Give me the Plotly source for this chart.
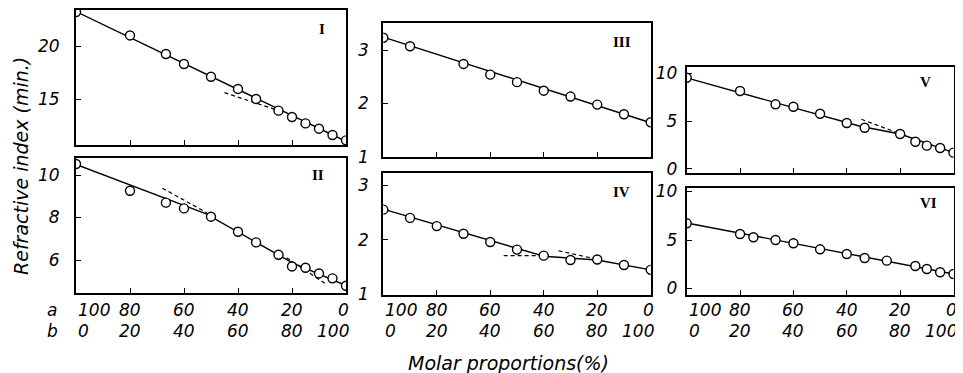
import plotly.graph_objects as go

# ---------------- data ----------------
# Panel I
p1_x = [100, 80, 66.7, 60, 50, 40, 33.3, 25, 20, 15, 10, 5, 0]
p1_y = [23.2, 21.0, 19.25, 18.3, 17.1, 15.95, 15.0, 13.9, 13.3, 12.7, 12.2, 11.6, 11.1]
p1_fit_x = [100, 33.3, 0]
p1_fit_y = [23.25, 15.05, 11.0]
p1_dash_x = [45, 25.5]
p1_dash_y = [15.6, 13.95]

# Panel II
p2_x = [100, 80, 66.7, 60, 50, 40, 33.3, 25, 20, 15, 10, 5, 0]
p2_y = [10.52, 9.26, 8.70, 8.43, 8.04, 7.33, 6.83, 6.25, 5.70, 5.64, 5.37, 5.14, 4.79]
p2_fit_x = [100, 52, 20, 0]
p2_fit_y = [10.5, 8.18, 5.88, 4.8]
p2_dash1_x = [68, 51.5]
p2_dash1_y = [9.38, 8.22]
p2_dash2_x = [22, 7.8]
p2_dash2_y = [6.11, 4.90]

# Panel III
p3_x = [100, 90, 70, 60, 50, 40, 30, 20, 10, 0]
p3_y = [3.23, 3.07, 2.74, 2.54, 2.40, 2.24, 2.13, 1.98, 1.80, 1.65]
p3_fit_x = [100, 0]
p3_fit_y = [3.24, 1.64]

# Panel IV
p4_x = [100, 90, 80, 70, 60, 50, 40, 30, 20, 10, 0]
p4_y = [2.55, 2.40, 2.25, 2.11, 1.96, 1.82, 1.71, 1.63, 1.64, 1.54, 1.45]
p4_fit_x = [100, 40, 20, 0]
p4_fit_y = [2.56, 1.70, 1.63, 1.45]
p4_dash1_x = [55, 42]
p4_dash1_y = [1.71, 1.71]
p4_dash2_x = [34.5, 22.5]
p4_dash2_y = [1.80, 1.67]

# Panel V
p5_x = [100, 80, 66.7, 60, 50, 40, 33.3, 20, 14.3, 10, 5, 0]
p5_y = [9.51, 8.13, 6.74, 6.49, 5.76, 4.79, 4.30, 3.65, 2.84, 2.43, 2.19, 1.70]
p5_fit_x = [100, 35, 20, 0]
p5_fit_y = [9.5, 4.45, 3.65, 1.7]
p5_dash_x = [34.5, 21.5]
p5_dash_y = [5.18, 3.82]

# Panel VI
p6_x = [100, 80, 75, 66.7, 60, 50, 40, 33.3, 25, 14.3, 10, 5, 0]
p6_y = [6.72, 5.62, 5.28, 5.0, 4.66, 4.04, 3.56, 3.14, 2.87, 2.32, 2.01, 1.67, 1.49]
p6_fit_x = [100, 0]
p6_fit_y = [6.75, 1.5]

x_tickvals = [100, 80, 60, 40, 20, 0]
a_labels = ["100", "80", "60", "40", "20", "0"]
b_labels = ["0", "20", "40", "60", "80", "100"]

y_title = "Refractive index (min.)"
x_title = "Molar proportions(%)"
row_labels = ["a", "b"]
panel_names = ["I", "II", "III", "IV", "V", "VI"]

# ---------------- layout helpers ----------------
W, H = 963, 373
OFF = 8  # the page body has a default 8px margin


def fx(px):
    return (px - OFF) / W


def fy(py):
    return 1 - (py - OFF) / H


FONT = dict(family="DejaVu Sans", size=17, color="black", style="italic")
TFONT = dict(family="DejaVu Sans", size=19, color="black", style="italic")

panels = [
    dict(x=p1_x, y=p1_y, fx=p1_fit_x, fy=p1_fit_y,
         dashes=[(p1_dash_x, p1_dash_y)],
         px=(76, 346), py=(10, 145), yr=[10.66, 23.4], yt=[15, 20],
         lab=(321.7, 29.3), bottom=False, so=11),
    dict(x=p2_x, y=p2_y, fx=p2_fit_x, fy=p2_fit_y,
         dashes=[(p2_dash1_x, p2_dash1_y), (p2_dash2_x, p2_dash2_y)],
         px=(76, 346), py=(158, 293), yr=[4.45, 10.8], yt=[6, 8, 10],
         lab=(318, 175), bottom=True, so=11),
    dict(x=p3_x, y=p3_y, fx=p3_fit_x, fy=p3_fit_y, dashes=[],
         px=(383.3, 650.7), py=(23.3, 157), yr=[1.0, 3.5], yt=[1, 2, 3],
         lab=(621.7, 41.7), bottom=False, so=9),
    dict(x=p4_x, y=p4_y, fx=p4_fit_x, fy=p4_fit_y,
         dashes=[(p4_dash1_x, p4_dash1_y), (p4_dash2_x, p4_dash2_y)],
         px=(383.3, 650.7), py=(173, 294.5), yr=[1.0, 3.22], yt=[1, 2, 3],
         lab=(621.7, 191.7), bottom=True, so=9),
    dict(x=p5_x, y=p5_y, fx=p5_fit_x, fy=p5_fit_y,
         dashes=[(p5_dash_x, p5_dash_y)],
         px=(686.7, 953.5), py=(67, 173.3), yr=[-0.45, 10.63], yt=[0, 5, 10],
         lab=(925, 81.7), bottom=False, so=4),
    dict(x=p6_x, y=p6_y, fx=p6_fit_x, fy=p6_fit_y, dashes=[],
         px=(686.7, 953.5), py=(188.3, 295), yr=[-0.67, 10.33], yt=[0, 5, 10],
         lab=(928.3, 203.3), bottom=True, so=4),
]

fig = go.Figure()
layout = dict(
    template="none",
    width=W, height=H,
    margin=dict(l=0, r=0, t=0, b=0, pad=0, autoexpand=False),
    paper_bgcolor="white", plot_bgcolor="white",
    showlegend=False,
    font=FONT,
)
annotations = []

for i, p in enumerate(panels, start=1):
    xn = "x" if i == 1 else f"x{i}"
    yn = "y" if i == 1 else f"y{i}"
    xk = "xaxis" if i == 1 else f"xaxis{i}"
    yk = "yaxis" if i == 1 else f"yaxis{i}"
    x0, x1 = p["px"]
    y0, y1 = p["py"]
    layout[xk] = dict(
        domain=[fx(x0), fx(x1)], anchor=yn, range=[100, 0], automargin=False,
        showgrid=False, zeroline=False, showline=True, mirror=True,
        linecolor="black", linewidth=2,
        ticks="inside", ticklen=5, tickwidth=1.4, tickcolor="black",
        tickvals=x_tickvals, showticklabels=False,
    )
    layout[yk] = dict(
        domain=[fy(y1), fy(y0)], anchor=xn, range=p["yr"], automargin=False,
        showgrid=False, zeroline=False, showline=True, mirror=True,
        linecolor="black", linewidth=2,
        ticks="inside", ticklen=5, tickwidth=1.4, tickcolor="black",
        tickvals=p["yt"], ticklabelstandoff=p["so"],
        tickfont=FONT,
    )
    fig.add_trace(go.Scatter(x=p["fx"], y=p["fy"], mode="lines",
                             line=dict(color="black", width=1.4),
                             xaxis=xn, yaxis=yn, hoverinfo="skip"))
    for dx, dy in p["dashes"]:
        fig.add_trace(go.Scatter(x=dx, y=dy, mode="lines",
                                 line=dict(color="black", width=1.2, dash="4px,3px"),
                                 xaxis=xn, yaxis=yn, hoverinfo="skip"))
    fig.add_trace(go.Scatter(x=p["x"], y=p["y"], mode="markers",
                             marker=dict(symbol="circle", size=9, color="white",
                                         line=dict(color="black", width=1.4)),
                             xaxis=xn, yaxis=yn))
    lx, ly = p["lab"]
    annotations.append(dict(
        text=f"<b>{panel_names[i-1]}</b>", showarrow=False,
        xref=f"{xn} domain", yref=f"{yn} domain",
        x=(lx - x0) / (x1 - x0), y=(y1 - ly) / (y1 - y0),
        xanchor="center", yanchor="middle",
        font=dict(family="Liberation Serif", size=15, color="black", style="normal"),
    ))
    # two-row x tick labels (a / b) under the bottom panels
    if p["bottom"]:
        last = len(x_tickvals) - 1
        for j, (v, a, b) in enumerate(zip(x_tickvals, a_labels, b_labels)):
            anc = "left" if j == 0 else ("right" if j == last else "center")
            shift = 5 if j == last else 0
            for txt, ypix in ((a, 310), (b, 331)):
                annotations.append(dict(
                    text=txt, showarrow=False, xref=xn, yref="paper",
                    x=v, y=fy(ypix), xanchor=anc, yanchor="middle",
                    xshift=shift, font=FONT,
                ))

annotations.append(dict(text=y_title, showarrow=False, xref="paper", yref="paper",
                        x=fx(21), y=fy(166), textangle=-90,
                        xanchor="center", yanchor="middle", font=TFONT))
annotations.append(dict(text=x_title, showarrow=False, xref="paper", yref="paper",
                        x=fx(508), y=fy(363),
                        xanchor="center", yanchor="middle", font=TFONT))
for lab, py in zip(row_labels, [310, 331]):
    annotations.append(dict(text=lab, showarrow=False, xref="paper", yref="paper",
                            x=fx(52), y=fy(py),
                            xanchor="center", yanchor="middle", font=FONT))

layout["annotations"] = annotations
fig.update_layout(**layout)
fig.write_html("out.html")
